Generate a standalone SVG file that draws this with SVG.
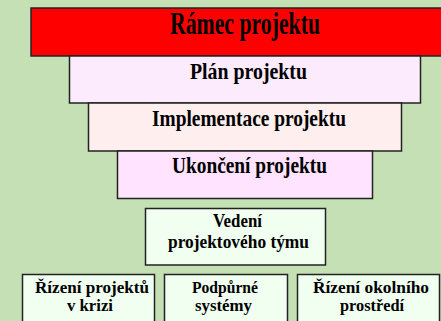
<svg xmlns="http://www.w3.org/2000/svg" width="441" height="321" viewBox="0 0 441 321">
<style>
.b{stroke:#222;stroke-width:1.5}
.t{font-family:"Liberation Serif","Times New Roman",serif;font-weight:bold;fill:#000;text-anchor:middle}
.L{font-size:31px}
.M{font-size:23px}
.S{font-size:19px}
.X{font-size:16px}
</style>
<rect x="0" y="0" width="441" height="321" fill="#C5E0B4"/>
<g id="ramec">
<rect class="b" x="31" y="8" width="420" height="48" fill="#FF0000"/>
<text class="t L" x="245" y="34" textLength="150" lengthAdjust="spacingAndGlyphs">Rámec projektu</text>
</g>
<g id="plan">
<rect class="b" x="69.5" y="56" width="351" height="47" fill="#FCEBFD"/>
<text class="t M" x="248.5" y="79" textLength="117" lengthAdjust="spacingAndGlyphs">Plán projektu</text>
</g>
<g id="implementace">
<rect class="b" x="88.5" y="103" width="313" height="48" fill="#FFEEEE"/>
<text class="t M" x="249" y="126" textLength="194" lengthAdjust="spacingAndGlyphs">Implementace projektu</text>
</g>
<g id="ukonceni">
<rect class="b" x="117.5" y="151" width="255" height="47.5" fill="#FFE3FF"/>
<text class="t M" x="249.5" y="173" textLength="155" lengthAdjust="spacingAndGlyphs">Ukončení projektu</text>
</g>
<g id="vedeni">
<rect class="b" x="145.5" y="208.5" width="180" height="56.5" fill="#F0FFF0"/>
<text class="t S" x="237.5" y="227" textLength="49" lengthAdjust="spacingAndGlyphs">Vedení</text>
<text class="t S" x="238.5" y="248" textLength="141" lengthAdjust="spacingAndGlyphs">projektového týmu</text>
</g>
<g id="krize">
<rect class="b" x="22.5" y="274.5" width="132" height="50" fill="#F0FFF0"/>
<text class="t X" x="92" y="293" textLength="114" lengthAdjust="spacingAndGlyphs">Řízení projektů</text>
<text class="t X" x="90" y="311" textLength="46" lengthAdjust="spacingAndGlyphs">v krizi</text>
</g>
<g id="podpurne">
<rect class="b" x="164.5" y="274.5" width="123" height="50" fill="#F0FFF0"/>
<text class="t X" x="225" y="293" textLength="66" lengthAdjust="spacingAndGlyphs">Podpůrné</text>
<text class="t X" x="223.5" y="311" textLength="57" lengthAdjust="spacingAndGlyphs">systémy</text>
</g>
<g id="okoli">
<rect class="b" x="297.5" y="274.5" width="142" height="50" fill="#F0FFF0"/>
<text class="t X" x="371" y="293" textLength="116" lengthAdjust="spacingAndGlyphs">Řízení okolního</text>
<text class="t X" x="372" y="311" textLength="64" lengthAdjust="spacingAndGlyphs">prostředí</text>
</g>
<g id="connectors"></g>
</svg>
